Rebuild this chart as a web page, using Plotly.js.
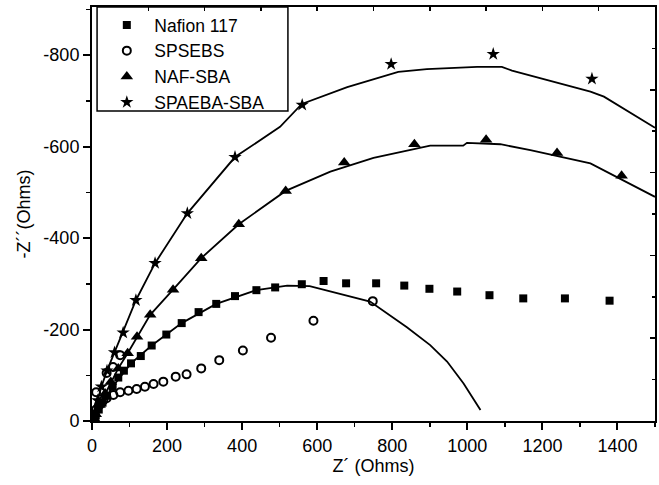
<!DOCTYPE html>
<html>
<head>
<meta charset="utf-8">
<script src="https://cdn.plot.ly/plotly-3.0.1.min.js"></script>
<style>html,body{margin:0;padding:0;background:#fff;}#chart{width:659px;height:485px;}</style>
</head>
<body>
<div id="chart"></div>
<script>
// ---- data (Z' in Ohms, -Z'' magnitude in Ohms) ----
const nafionX = [6, 10, 18, 28, 40, 55, 70, 85, 104, 130, 159, 198, 239, 284, 331, 381, 438, 488, 559, 617, 677, 757, 832, 899, 973, 1059, 1149, 1260, 1379];
const nafionY = [5, 12, 25, 40, 55, 75, 95, 110, 126, 142, 165, 189, 214, 238, 256, 273, 286, 292, 299, 306, 301, 301, 296, 289, 283, 275, 268, 268, 263];

const spsebsX = [5, 11, 20, 30, 39, 57, 75, 97, 119, 141, 164, 190, 223, 252, 291, 339, 402, 477, 590, 748, 11, 39, 56, 75];
const spsebsY = [12, 25, 35, 45, 50, 57, 63, 66, 70, 75, 81, 86, 97, 102, 115, 133, 154, 182, 219, 262, 63, 105, 118, 144];

const nafSbaX = [5, 10, 20, 35, 50, 70, 95, 120, 155, 216, 291, 391, 516, 672, 859, 1050, 1239, 1411];
const nafSbaY = [6, 15, 35, 60, 85, 115, 148, 184, 232, 287, 356, 430, 503, 565, 605, 615, 586, 536];

const spaebaX = [4, 8, 15, 25, 40, 60, 83, 117, 168, 254, 381, 560, 797, 1069, 1332];
const spaebaY = [8, 20, 45, 75, 110, 150, 193, 264, 345, 454, 577, 691, 780, 802, 748];

// fitted curves
const fitNafionX = [0, 10, 28, 55, 104, 159, 239, 331, 438, 520, 580, 635, 741, 839, 901, 946, 990, 1035];
const fitNafionY = [0, 12, 40, 75, 126, 165, 214, 256, 286, 296, 295, 283, 261, 205, 166, 130, 82, 24];

const fitNafSbaX = [0, 10, 20, 35, 50, 70, 95, 120, 155, 216, 291, 391, 516, 635, 750, 901, 989, 999, 1088, 1168, 1328, 1500];
const fitNafSbaY = [0, 15, 35, 60, 85, 115, 148, 184, 232, 287, 356, 430, 503, 545, 575, 602, 602, 608, 605, 592, 563, 490];

const fitSpaebaX = [0, 8, 15, 25, 40, 60, 83, 117, 168, 254, 381, 501, 559, 680, 816, 892, 1026, 1092, 1119, 1328, 1364, 1500];
const fitSpaebaY = [0, 20, 45, 75, 110, 150, 193, 264, 345, 454, 577, 643, 693, 730, 763, 769, 774, 774, 766, 720, 709, 641];

const seriesNames = ["Nafion 117", "SPSEBS", "NAF-SBA", "SPAEBA-SBA"];

const xTickVals = [0, 200, 400, 600, 800, 1000, 1200, 1400];
const xTickText = ["0", "200", "400", "600", "800", "1000", "1200", "1400"];
const yTickVals = [0, 200, 400, 600, 800];
const yTickText = ["0", "-200", "-400", "-600", "-800"];

const FONT = "Arial, 'Liberation Sans', sans-serif";
const BLACK = "#000";

function fit(x, y) {
  return {x: x, y: y, type: "scatter", mode: "lines", showlegend: false, hoverinfo: "skip",
          line: {color: BLACK, width: 1.8}};
}
function pts(x, y, name, symbol, size, lw) {
  return {x: x, y: y, type: "scatter", mode: "markers", name: name,
          marker: {symbol: symbol, size: size, color: BLACK, line: {color: BLACK, width: lw}}};
}

const data = [
  fit(fitNafionX, fitNafionY),
  fit(fitNafSbaX, fitNafSbaY),
  fit(fitSpaebaX, fitSpaebaY),
  pts(nafionX, nafionY, seriesNames[0], "square", 8, 0),
  pts(spsebsX, spsebsY, seriesNames[1], "circle-open", 8, 2),
  pts(nafSbaX, nafSbaY, seriesNames[2], "triangle-up", 11, 0),
  pts(spaebaX, spaebaY, seriesNames[3], "star", 10, 0),
  // carriers for the secondary (top / right) tick axes: no visible point
  {x: [null], y: [null], xaxis: "x2", yaxis: "y", type: "scatter", mode: "markers",
   showlegend: false, hoverinfo: "skip"},
  {x: [null], y: [null], xaxis: "x", yaxis: "y2", type: "scatter", mode: "markers",
   showlegend: false, hoverinfo: "skip"}
];

const layout = {
  width: 659, height: 485,
  margin: {l: 92, r: 4, t: 7, b: 64},
  paper_bgcolor: "#fff", plot_bgcolor: "#fff",
  font: {family: FONT, size: 18, color: BLACK},
  showlegend: true,
  legend: {x: 0.013, y: 1.0, xanchor: "left", yanchor: "top",
           borderwidth: 0, bgcolor: "rgba(0,0,0,0)",
           font: {family: FONT, size: 17.5, color: BLACK},
           itemwidth: 45, tracegroupgap: 0},
  shapes: [
    {type: "rect", xref: "paper", yref: "paper", x0: 0.009, x1: 0.348, y0: 0.749, y1: 1.0,
     line: {color: BLACK, width: 1.5}, fillcolor: "rgba(0,0,0,0)"}
  ],
  xaxis: {range: [0, 1500], showgrid: false, zeroline: false,
          showline: true, linecolor: BLACK, linewidth: 2, mirror: true,
          ticks: "outside", ticklen: 7, tickwidth: 2, tickcolor: BLACK,
          tickmode: "array", tickvals: xTickVals, ticktext: xTickText,
          minor: {dtick: 100, tick0: 0, ticks: "outside", ticklen: 4, tickwidth: 1.5, tickcolor: BLACK},
          tickfont: {family: FONT, size: 18, color: BLACK},
          title: {text: "Z´ (Ohms)", font: {family: FONT, size: 18, color: BLACK}, standoff: 5}},
  yaxis: {range: [0, 905], showgrid: false, zeroline: false,
          showline: true, linecolor: BLACK, linewidth: 2, mirror: true,
          ticks: "outside", ticklen: 7, tickwidth: 2, tickcolor: BLACK,
          tickmode: "array", tickvals: yTickVals, ticktext: yTickText,
          minor: {dtick: 100, tick0: 0, ticks: "outside", ticklen: 4, tickwidth: 1.5, tickcolor: BLACK},
          tickfont: {family: FONT, size: 18, color: BLACK},
          title: {text: "-Z´´(Ohms)", font: {family: FONT, size: 18, color: BLACK}, standoff: 8}},
  xaxis2: {overlaying: "x", side: "top", range: [0, 10], dtick: 1, tick0: 0, tickmode: "linear",
           showgrid: false, zeroline: false, showline: false, showticklabels: false,
           ticks: "inside", ticklen: 4, tickwidth: 1.5, tickcolor: BLACK},
  yaxis2: {overlaying: "y", side: "right", range: [0, 5], dtick: 1, tick0: 0, tickmode: "linear",
           showgrid: false, zeroline: false, showline: false, showticklabels: false,
           ticks: "inside", ticklen: 5, tickwidth: 1.5, tickcolor: BLACK,
           minor: {dtick: 0.5, ticks: "inside", ticklen: 3, tickwidth: 1.5, tickcolor: BLACK}}
};

Plotly.newPlot("chart", data, layout, {displayModeBar: false, staticPlot: true});
</script>
</body>
</html>
